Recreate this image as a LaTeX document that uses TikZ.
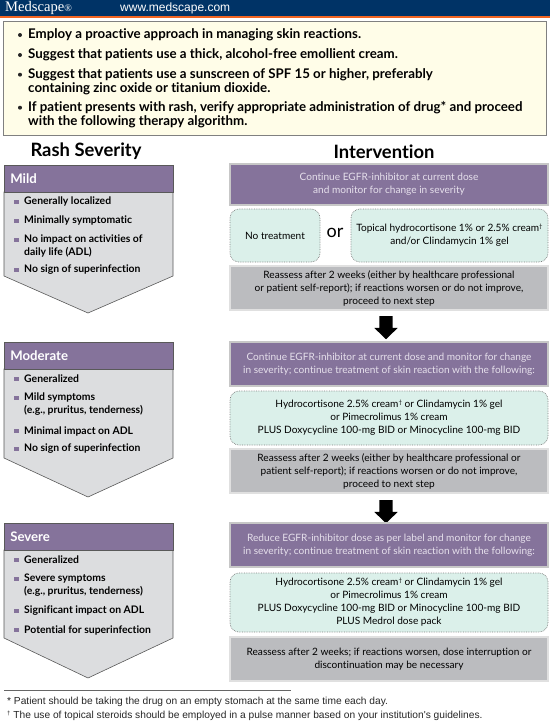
\documentclass[tikz,border=0pt]{standalone}
\usepackage{fontspec}
\setmainfont[Ligatures=NoCommon]{Lato}
\newfontfamily\arialfont{Liberation Sans}
\newfontfamily\logofont{Liberation Serif}
\usetikzlibrary{shapes.arrows}
\definecolor{navyhead}{HTML}{003366}
\definecolor{orangeline}{HTML}{F26522}
\definecolor{creamfill}{HTML}{FFFDE8}
\definecolor{purplefill}{HTML}{85739B}
\definecolor{palepurple}{HTML}{E6E0EC}
\definecolor{tealfill}{HTML}{DBF0EA}
\definecolor{greyfill}{HTML}{BBBCBF}
\definecolor{panelfill}{HTML}{DCDDDF}
\newcommand{\dagmark}{\raisebox{3.2pt}{\fontsize{6}{6}\selectfont †}}
\tikzset{
	purplebox/.style={fill=purplefill,draw=black!22,line width=1.2pt,text=palepurple,inner sep=0pt,align=center,font=\fontsize{10.1}{13}\selectfont},
	tealbox/.style={fill=tealfill,draw=black!50,densely dotted,line width=.7pt,rounded corners=9pt,inner sep=0pt,align=center,font=\fontsize{10.1}{13}\selectfont},
	greybox/.style={fill=greyfill,draw=black!12,line width=1.2pt,inner sep=0pt,align=center,font=\fontsize{10.1}{13}\selectfont},
	rashhead/.style={fill=purplefill,draw=black!65,line width=.6pt,text=white,anchor=north west,inner sep=0pt,minimum width=169pt,minimum height=27pt,align=left,text width=157pt,font=\fontsize{13.2}{14}\bfseries\selectfont},
	rashbody/.style={fill=panelfill,draw=black!65,line width=.6pt},
	rashitem/.style={anchor=west,inner sep=0pt,align=left,font=\fontsize{10.4}{13}\bfseries\selectfont},
	creamitem/.style={anchor=west,inner sep=0pt,align=left,font=\fontsize{13.3}{14}\bfseries\selectfont},
	blockarrow/.style={shape=single arrow,fill=black,inner sep=6.5pt,shape border rotate=270,minimum height=23pt,minimum width=23pt,single arrow head extend=5pt,single arrow tip angle=92}
}
\begin{document}
\begin{tikzpicture}[x=1pt,y=-1pt]
	\useasboundingbox (0,0) rectangle (550,724);
	% page head
	\fill[navyhead] (0,0) rectangle (550,16);
	\fill[orangeline] (0,16) rectangle (550,18);
	\node[text=white,inner sep=0pt,anchor=west,font=\logofont\fontsize{14.6}{15}\selectfont] (logo) at (5,8) {Medscape{\fontsize{10}{10}\selectfont\textregistered}};
	\node[text=white,inner sep=0pt,anchor=west,font=\arialfont\fontsize{12}{12}\selectfont] (url) at (120,8.5) {www.medscape.com};
	% cream box
	\draw[fill=creamfill,draw=black!50,line width=.7pt] (3.5,21) rectangle (546.5,135);
	\foreach \y/\txt [count=\i] in {35/Employ a proactive approach in managing skin reactions.,
		55/{Suggest that patients use a thick, alcohol-free emollient cream.},
		81.3/{Suggest that patients use a sunscreen of SPF 15 or higher, preferably\\containing zinc oxide or titanium dioxide.},
		114.7/{If patient presents with rash, verify appropriate administration of drug* and proceed\\with the following therapy algorithm.}}{
		\node[creamitem] (cream\i) at (28,\y) {\txt};
	}
	\foreach \y [count=\i] in {35,55,74.7,107.7}{
		\fill[black!85] (20,\y) circle (2);
	}
	% titles
	\node[inner sep=0pt,font=\fontsize{18.4}{20}\bfseries\selectfont] (rashtitle) at (86,151.5) {Rash Severity};
	\node[inner sep=0pt,font=\fontsize{18.4}{20}\bfseries\selectfont] (intertitle) at (384,151.5) {Intervention};
	% mild
	\draw[rashbody] (4,192) -- (173,192) -- (173,276) -- (88,313) -- (4,276) -- cycle;
	\node[rashhead] (mildhead) at (4,165) {Mild};
	\foreach \y/\bullety/\txt [count=\i] in {202/202/Generally localized,221/221/Minimally symptomatic,246.5/240/{No impact on activities of\\daily life (ADL)},270/270/No sign of superinfection}{
		\fill[purplefill] (14,\bullety-2.2) rectangle (18.5,\bullety+2.2);
		\node[rashitem] (mild\i) at (24,\y) {\txt};
	}
	% moderate
	\draw[rashbody] (4,369) -- (173,369) -- (173,458) -- (88,497) -- (4,458) -- cycle;
	\node[rashhead] (modhead) at (4,342) {Moderate};
	\foreach \y/\bullety/\txt [count=\i] in {379/379/Generalized,404.5/398/{Mild symptoms\\(e.g., pruritus, tenderness)},431/431/Minimal impact on ADL,449/449/No sign of superinfection}{
		\fill[purplefill] (14,\bullety-2.2) rectangle (18.5,\bullety+2.2);
		\node[rashitem] (mod\i) at (24,\y) {\txt};
	}
	% severe
	\draw[rashbody] (4,550) -- (173,550) -- (173,638) -- (88,678) -- (4,638) -- cycle;
	\node[rashhead] (sevhead) at (4,523) {Severe};
	\foreach \y/\bullety/\txt [count=\i] in {560/560/Generalized,585.5/579/{Severe symptoms\\(e.g., pruritus, tenderness)},611/611/Significant impact on ADL,630/630/Potential for superinfection}{
		\fill[purplefill] (14,\bullety-2.2) rectangle (18.5,\bullety+2.2);
		\node[rashitem] (sev\i) at (24,\y) {\txt};
	}
	% intervention, mild
	\node[purplebox,minimum width=318pt,minimum height=41pt] (contone) at (389,184.5) {Continue EGFR-inhibitor at current dose\\and monitor for change in severity};
	\node[tealbox,minimum width=90pt,minimum height=53pt] (notreat) at (275,235.5) {No treatment};
	\node[inner sep=0pt,font=\fontsize{18}{18}\selectfont] (ortext) at (335,233) {or};
	\node[tealbox,minimum width=197pt,minimum height=53pt] (topical) at (449.5,235.5) {Topical hydrocortisone 1\% or 2.5\% cream\dagmark\\and/or Clindamycin 1\% gel};
	\node[greybox,minimum width=318pt,minimum height=44pt] (reone) at (389,288) {Reassess after 2 weeks (either by healthcare professional\\or patient self-report); if reactions worsen or do not improve,\\proceed to next step};
	\node[blockarrow] (arrone) at (386,324.5) {};
	% intervention, moderate
	\node[purplebox,minimum width=318pt,minimum height=44pt] (conttwo) at (389,364) {Continue EGFR-inhibitor at current dose and monitor for change\\in severity; continue treatment of skin reaction with the following:};
	\node[tealbox,minimum width=318pt,minimum height=54pt] (hydrotwo) at (389,418) {Hydrocortisone 2.5\% cream\dagmark{} or Clindamycin 1\% gel\\or Pimecrolimus 1\% cream\\PLUS Doxycycline 100-mg BID or Minocycline 100-mg BID};
	\node[greybox,minimum width=318pt,minimum height=44pt] (retwo) at (389,471) {Reassess after 2 weeks (either by healthcare professional or\\patient self-report); if reactions worsen or do not improve,\\proceed to next step};
	\node[blockarrow] (arrtwo) at (386,508.5) {};
	% intervention, severe
	\node[purplebox,minimum width=318pt,minimum height=44pt] (reduce) at (389,545) {Reduce EGFR-inhibitor dose as per label and monitor for change\\in severity; continue treatment of skin reaction with the following:};
	\node[tealbox,minimum width=318pt,minimum height=59pt] (hydrothree) at (389,602.5) {Hydrocortisone 2.5\% cream\dagmark{} or Clindamycin 1\% gel\\or Pimecrolimus 1\% cream\\PLUS Doxycycline 100-mg BID or Minocycline 100-mg BID\\PLUS Medrol dose pack};
	\node[greybox,minimum width=318pt,minimum height=44pt] (rethree) at (389,659) {Reassess after 2 weeks; if reactions worsen, dose interruption or\\discontinuation may be necessary};
	% footnotes
	\draw[black!60,line width=.6pt] (4,690) -- (291,690);
	\node[inner sep=0pt,anchor=west,text=black!85,font=\arialfont\fontsize{10.2}{11}\selectfont] (footone) at (7,701.5) {* Patient should be taking the drug on an empty stomach at the same time each day.};
	\node[inner sep=0pt,anchor=west,text=black!85,font=\arialfont\fontsize{10.2}{11}\selectfont] (foottwo) at (7,715.5) {\dagmark{} The use of topical steroids should be employed in a pulse manner based on your institution's guidelines.};
\end{tikzpicture}
\end{document}
